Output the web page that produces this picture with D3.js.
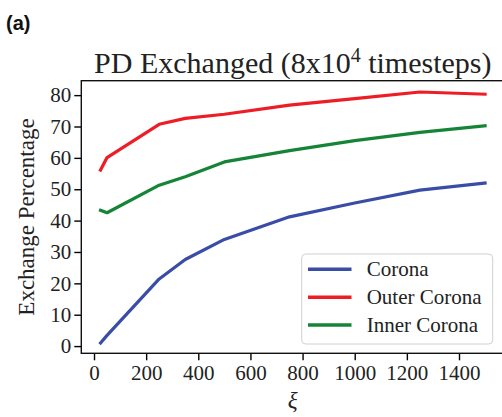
<!DOCTYPE html>
<html>
<head>
<meta charset="utf-8">
<title>PD Exchanged</title>
<script src="https://d3js.org/d3.v7.min.js"></script>
<style>
  body { margin: 0; background: #fff; }
  text { font-family: "Liberation Serif", "DejaVu Serif", serif; fill: #222; }
  .tick line { stroke: #000; stroke-width: 1.4; }
</style>
</head>
<body>
<svg id="chart" width="502" height="417"></svg>
<script>
// data
const xi = [25, 50, 250, 350, 500, 750, 1000, 1250, 1500];
const corona = [1.0, 3.4, 21.4, 27.6, 34.0, 41.2, 45.6, 49.7, 52.0];
const outerCorona = [56.1, 60.1, 70.7, 72.6, 73.9, 76.8, 78.9, 81.0, 80.3];
const innerCorona = [43.3, 42.5, 51.3, 54.0, 58.7, 62.3, 65.5, 68.1, 70.2];
const seriesNames = ["Corona", "Outer Corona", "Inner Corona"];
const seriesColors = ["#3a4da6", "#ee1c25", "#158437"];
const xTicks = [0, 200, 400, 600, 800, 1000, 1200, 1400];
const yTicks = [0, 10, 20, 30, 40, 50, 60, 70, 80];

const svg = d3.select("#chart");
const plotL = 81.3, plotR = 504.3, plotT = 80.7, plotB = 353.3;

var x = d3.scaleLinear().domain([-48.75, 1573.75]).range([plotL, plotR]);
var y = d3.scaleLinear().domain([-2.3, 84.6]).range([plotB, plotT]);

// panel letter
svg.append("text")
  .attr("x", 6).attr("y", 30)
  .style("font-family", "'Liberation Sans', Arial, sans-serif")
  .style("font-weight", "bold").style("font-size", "20px").style("fill", "#111")
  .text("(a)");

// title
var title = svg.append("text")
  .attr("x", (plotL + plotR) / 2).attr("y", 73)
  .attr("text-anchor", "middle")
  .style("font-size", "30px");
title.append("tspan").text("PD Exchanged (8x10");
title.append("tspan").attr("dy", -11).style("font-size", "20px").text("4");
title.append("tspan").attr("dy", 11).text(" timesteps)");

// lines
const allSeries = [corona, outerCorona, innerCorona];
var line = d3.line()
  .x(function(d, i) { return x(xi[i]); })
  .y(function(d) { return y(d); });

svg.append("g").selectAll("path")
  .data(allSeries)
  .enter().append("path")
  .attr("d", line)
  .attr("fill", "none")
  .attr("stroke", function(d, i) { return seriesColors[i]; })
  .attr("stroke-width", 3.2)
  .attr("stroke-linejoin", "round")
  .attr("stroke-linecap", "square");

// axes
var xAxis = d3.axisBottom(x).tickValues(xTicks).tickSize(7).tickPadding(5).tickFormat(d3.format("d"));
var yAxis = d3.axisLeft(y).tickValues(yTicks).tickSize(7).tickPadding(3).tickFormat(d3.format("d"));

var gx = svg.append("g").attr("transform", "translate(0," + plotB + ")").call(xAxis);
var gy = svg.append("g").attr("transform", "translate(" + plotL + ",0)").call(yAxis);
gx.select(".domain").remove();
gy.select(".domain").remove();
svg.selectAll(".tick text")
  .style("font-family", "'Liberation Serif', serif")
  .style("font-size", "21px").attr("fill", "#222");

// frame
svg.append("rect")
  .attr("x", plotL).attr("y", plotT)
  .attr("width", plotR - plotL).attr("height", plotB - plotT)
  .attr("fill", "none").attr("stroke", "#111").attr("stroke-width", 1.4);

// axis labels
svg.append("text")
  .attr("x", (plotL + plotR) / 2).attr("y", 408)
  .attr("text-anchor", "middle")
  .style("font-style", "italic").style("font-size", "23px")
  .text("ξ");

svg.append("text")
  .attr("transform", "translate(34," + (plotT + plotB) / 2 + ") rotate(-90)")
  .attr("text-anchor", "middle")
  .style("font-size", "23px")
  .text("Exchange Percentage");

// legend
var legend = svg.append("g");
legend.append("rect")
  .attr("x", 301.7).attr("y", 254).attr("width", 191).attr("height", 90)
  .attr("rx", 4).attr("fill", "#fff").attr("fill-opacity", 0.8)
  .attr("stroke", "#d0d0d0").attr("stroke-width", 1);

var rows = legend.selectAll(".row")
  .data(seriesNames)
  .enter().append("g")
  .attr("transform", function(d, i) { return "translate(0," + (269.3 + i * 27.9) + ")"; });
rows.append("line")
  .attr("x1", 308).attr("x2", 351.5)
  .attr("stroke", function(d, i) { return seriesColors[i]; })
  .attr("stroke-width", 3.5);
rows.append("text")
  .attr("x", 366.7).attr("dy", "0.33em")
  .style("font-size", "21px")
  .text(function(d) { return d; });
</script>
</body>
</html>
